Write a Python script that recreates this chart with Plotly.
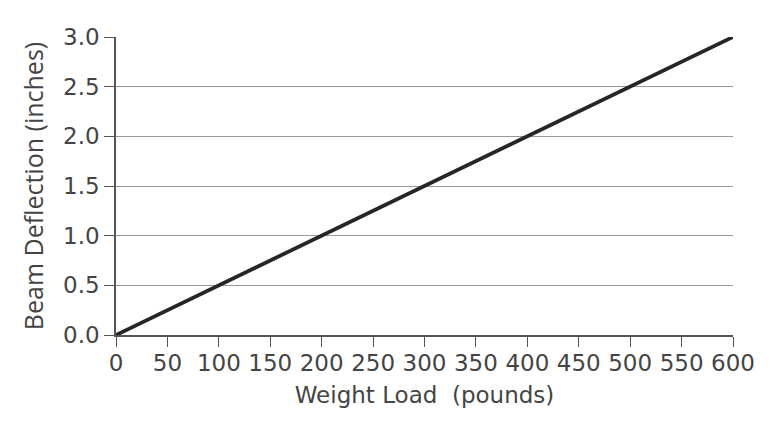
import plotly.graph_objects as go

weight = [0, 100, 200, 300, 400, 500, 600]
deflection = [0.0, 0.5, 1.0, 1.5, 2.0, 2.5, 3.0]

x_ticks = [0, 50, 100, 150, 200, 250, 300, 350, 400, 450, 500, 550, 600]
y_ticks = [0.0, 0.5, 1.0, 1.5, 2.0, 2.5, 3.0]
y_labels = ["0.0", "0.5", "1.0", "1.5", "2.0", "2.5", "3.0"]

fig = go.Figure()
fig.add_trace(go.Scatter(x=weight, y=deflection, mode="lines",
                         line=dict(color="#262626", width=3.8),
                         showlegend=False))

# page body has an 8px margin, so the figure is a bit smaller than the window
fig.update_layout(
    width=762, height=414,
    margin=dict(l=108, r=37, t=29, b=87),
    paper_bgcolor="white", plot_bgcolor="white",
    font=dict(family="DejaVu Sans", color="#444444", size=23),
)
fig.update_xaxes(
    range=[0, 600], tickvals=x_ticks, showgrid=False, zeroline=False,
    showline=True, linecolor="#555555", linewidth=1.5,
    ticks="outside", ticklen=10, tickcolor="#555555", tickwidth=1,
    ticklabelstandoff=-3,
    tickfont=dict(size=23, color="#444444"),
    title=dict(text="Weight Load  (pounds)", standoff=12,
               font=dict(family="DejaVu Sans", size=23, color="#444444")),
)
fig.update_yaxes(
    range=[0, 3], tickvals=y_ticks, ticktext=y_labels,
    showgrid=True, gridcolor="#999999", gridwidth=1, zeroline=False,
    showline=True, linecolor="#555555", linewidth=1.5,
    ticks="outside", ticklen=10, tickcolor="#555555", tickwidth=1,
    tickfont=dict(size=23, color="#444444"),
    title=dict(text="Beam Deflection (inches)", standoff=12,
               font=dict(family="Open Sans", size=25, color="#444444")),
)

fig.write_html("out.html")
